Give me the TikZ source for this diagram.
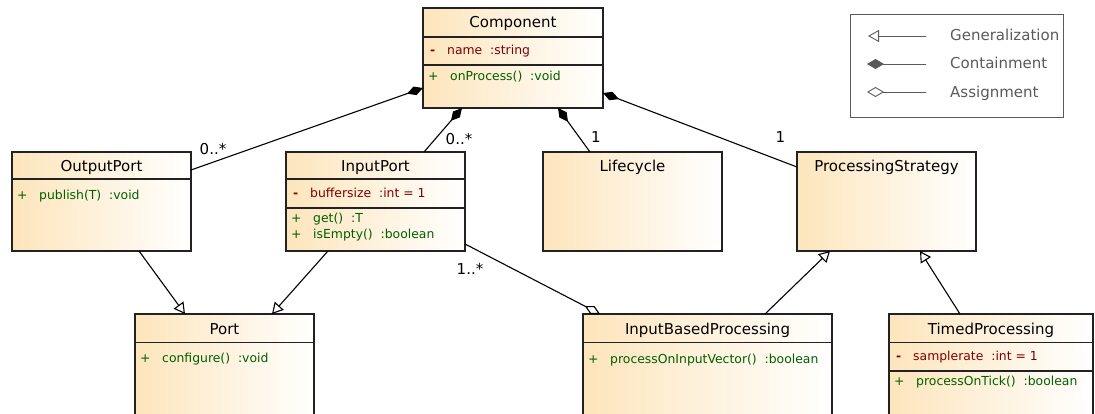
\documentclass[tikz,border=0pt]{standalone}
\usepackage{fontspec}
\setmainfont{DejaVu Sans}
\usetikzlibrary{arrows.meta, positioning}
\definecolor{classOrange}{RGB}{253,229,188}
\definecolor{borderDark}{RGB}{34,34,34}
\definecolor{attribRed}{RGB}{128,0,0}
\definecolor{operGreen}{RGB}{0,96,0}
\definecolor{legendGray}{RGB}{90,90,90}

\begin{document}
\begin{tikzpicture}[x=1pt, y=-1pt,
            umlclass/.style={rectangle, draw=borderDark, line width=1.1pt, left color=classOrange,
                             right color=white, minimum height=100pt, inner sep=0pt, outer sep=0pt},
            classname/.style={font=\fontsize{15pt}{18pt}\selectfont, text height=11pt, text depth=0pt, inner sep=0pt},
            attrib/.style={anchor=west, inner sep=0pt, text=attribRed, font=\fontsize{12.4pt}{15pt}\selectfont,
                           text height=9pt, text depth=0pt},
            oper/.style={attrib, text=operGreen},
            compsep/.style={draw=borderDark, line width=1.1pt},
            contain/.style={-{Diamond[length=17pt, width=9pt]}, line width=1.1pt},
            assign/.style={-{Diamond[open, length=17pt, width=9pt]}, line width=1.1pt},
            generalize/.style={-{Triangle[open, length=11pt, width=12pt]}, line width=1.1pt},
            mult/.style={font=\fontsize{15pt}{18pt}\selectfont, text height=11pt, text depth=0pt, inner sep=0pt},
            legendtext/.style={anchor=west, text=legendGray, font=\fontsize{15pt}{18pt}\selectfont,
                               text height=11pt, text depth=0pt, inner sep=0pt}
        ]
            \useasboundingbox (0,0) rectangle (1095,414);

            % Classes
            \node[umlclass, minimum width=180pt] (comp) at (513,58) {};
            \node[umlclass, minimum width=179pt, minimum height=99pt] (outport) at (101.5,201.5) {};
            \node[umlclass, minimum width=179pt, minimum height=99pt] (inport) at (375.5,201.5) {};
            \node[umlclass, minimum width=179pt, minimum height=99pt] (lifecycle) at (632.5,201.5) {};
            \node[umlclass, minimum width=179pt, minimum height=99pt] (strategy) at (886.5,201.5) {};
            \node[umlclass, minimum width=179pt, minimum height=110pt] (port) at (224.5,369) {};
            \node[umlclass, minimum width=249pt, minimum height=110pt] (inputbased) at (707.5,369) {};
            \node[umlclass, minimum width=204pt, minimum height=110pt] (timed) at (991,369) {};

            % Compartments
            \draw[compsep] ([yshift=-29pt]comp.north west) -- ([yshift=-29pt]comp.north east);
            \draw[compsep] ([yshift=-57pt]comp.north west) -- ([yshift=-57pt]comp.north east);
            \draw[compsep] ([yshift=-27pt]outport.north west) -- ([yshift=-27pt]outport.north east);
            \draw[compsep] ([yshift=-27pt]inport.north west) -- ([yshift=-27pt]inport.north east);
            \draw[compsep] ([yshift=-56pt]inport.north west) -- ([yshift=-56pt]inport.north east);
            \draw[compsep] ([yshift=-28.5pt]port.north west) -- ([yshift=-28.5pt]port.north east);
            \draw[compsep] ([yshift=-28.5pt]inputbased.north west) -- ([yshift=-28.5pt]inputbased.north east);
            \draw[compsep] ([yshift=-28.5pt]timed.north west) -- ([yshift=-28.5pt]timed.north east);
            \draw[compsep] ([yshift=-57pt]timed.north west) -- ([yshift=-57pt]timed.north east);

            % Names
            \node[classname] (compName) at (513,22.5) {Component};
            \node[classname] (outportName) at (101.5,166) {OutputPort};
            \node[classname] (inportName) at (375.5,166) {InputPort};
            \node[classname] (lifecycleName) at (632.5,166) {Lifecycle};
            \node[classname] (strategyName) at (886.5,166) {ProcessingStrategy};
            \node[classname] (portName) at (224.5,328.5) {Port};
            \node[classname] (inputbasedName) at (707.5,328.5) {InputBasedProcessing};
            \node[classname] (timedName) at (991,328.5) {TimedProcessing};

            % Members
            \node[attrib] (compAttr) at (430,50) {\makebox[17pt][l]{\textbf{-}}name~~:string};
            \node[oper] (compOp) at (428,76) {\makebox[22pt][l]{+}onProcess()~~:void};
            \node[oper] (outportOp) at (17,195) {\makebox[22pt][l]{+}publish(T)~~:void};
            \node[attrib] (inportAttr) at (293,193) {\makebox[17pt][l]{\textbf{-}}buffersize~~:int = 1};
            \node[oper] (inportOpA) at (291,218) {\makebox[22pt][l]{+}get()~~:T};
            \node[oper] (inportOpB) at (291,234) {\makebox[22pt][l]{+}isEmpty()~~:boolean};
            \node[oper] (portOp) at (140,358) {\makebox[22pt][l]{+}configure()~~:void};
            \node[oper] (inputbasedOp) at (588,359) {\makebox[22pt][l]{+}processOnInputVector()~~:boolean};
            \node[attrib] (timedAttr) at (896,356) {\makebox[17pt][l]{\textbf{-}}samplerate~~:int = 1};
            \node[oper] (timedOp) at (894,381) {\makebox[22pt][l]{+}processOnTick()~~:boolean};

            % Relations
            \draw[contain] ([yshift=-18pt]outport.north east) -- ([yshift=20pt]comp.south west);
            \draw[contain] ([xshift=-41pt]inport.north east) -- ([xshift=39pt]comp.south west);
            \draw[contain] ([xshift=47pt]lifecycle.north west) -- ([xshift=135pt]comp.south west);
            \draw[contain] ([yshift=-15pt]strategy.north west) -- ([yshift=15pt]comp.south east);
            \draw[generalize] ([xshift=127pt]outport.south west) -- ([xshift=50pt]port.north west);
            \draw[generalize] ([xshift=42pt]inport.south west) -- ([xshift=137pt]port.north west);
            \draw[assign] ([yshift=7pt]inport.south east) -- ([xshift=17pt]inputbased.north west);
            \draw[generalize] ([xshift=182pt]inputbased.north west) -- ([xshift=33pt]strategy.south west);
            \draw[generalize] ([xshift=71pt]timed.north west) -- ([xshift=123pt]strategy.south west);

            % Multiplicities
            \node[mult] (multOut) at (213,149) {0..*};
            \node[mult] (multIn) at (459,139) {0..*};
            \node[mult] (multLife) at (596,137.5) {1};
            \node[mult] (multStrat) at (780.5,137.5) {1};
            \node[mult] (multAssign) at (470,268.5) {1..*};

            % Legend
            \node[draw=legendGray, line width=0.9pt, minimum width=213pt, minimum height=103pt, inner sep=0pt] (legend) at (956.5,65.5) {};
            \node[legendtext] (legendGen) at (950,35) {Generalization};
            \node[legendtext] (legendCont) at (950,63) {Containment};
            \node[legendtext] (legendAssign) at (950,92.5) {Assignment};
            \coordinate (genFrom) at (926,36);
            \coordinate (genTo) at (868,36);
            \coordinate (contFrom) at (926,64);
            \coordinate (contTo) at (867,64);
            \coordinate (assignFrom) at (926,92);
            \coordinate (assignTo) at (867,92);
            \draw[generalize, legendGray, line width=0.9pt] (genFrom) -- (genTo);
            \draw[legendGray, line width=0.9pt, -{Diamond[length=17pt, width=10pt]}] (contFrom) -- (contTo);
            \draw[legendGray, line width=0.9pt, -{Diamond[open, length=17pt, width=10pt]}] (assignFrom) -- (assignTo);
        \end{tikzpicture}
\end{document}
